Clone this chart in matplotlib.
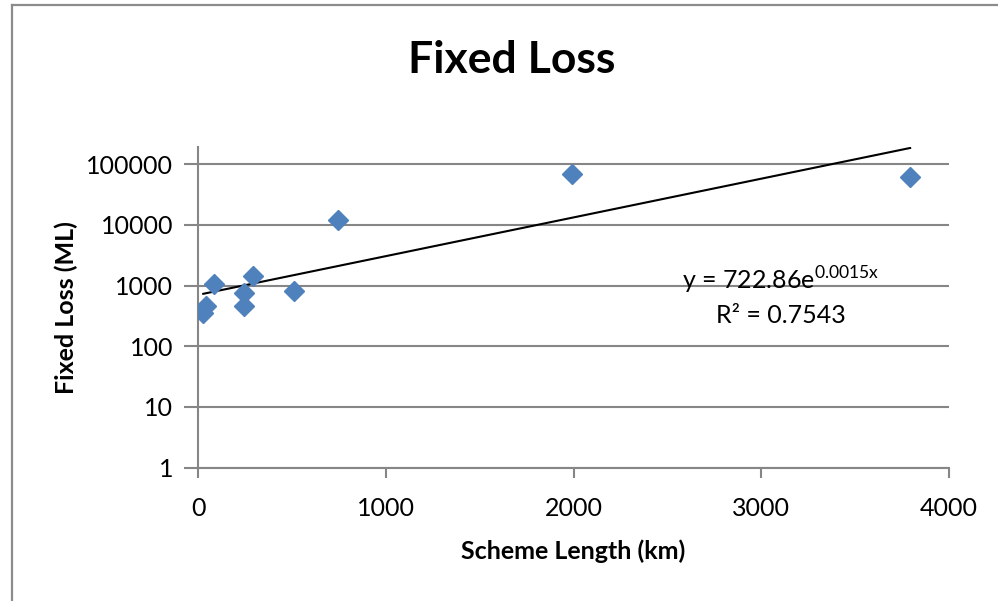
import numpy as np
import matplotlib.pyplot as plt
from matplotlib.lines import Line2D

# scheme length (km) and fixed loss (ML)
length_km = [28, 43, 87, 246, 246, 294, 512, 746, 1993, 3793]
fixed_loss = [350, 465, 1050, 750, 460, 1440, 815, 12200, 69800, 62200]
x_ticks = [0, 1000, 2000, 3000, 4000]
y_ticks = [1, 10, 100, 1000, 10000, 100000]

plt.rcParams['font.family'] = ['Lato', 'DejaVu Sans']
plt.rcParams['mathtext.fontset'] = 'custom'
plt.rcParams['mathtext.rm'] = 'Lato'

grey = '#868686'
blue = '#4F81BD'

fig = plt.figure(figsize=(9.98, 6.01), dpi=100)
ax = fig.add_axes([198 / 998, 1 - 467.7 / 601, 751 / 998, (467.7 - 147) / 601])

# chart area border (left and top only visible)
fig.add_artist(Line2D([12 / 998, 12 / 998], [0, 1 - 5 / 601], color='#8c8c8c', lw=1.6))
fig.add_artist(Line2D([12 / 998, 1], [1 - 5 / 601, 1 - 5 / 601], color='#8c8c8c', lw=1.6))

# exponential trendline, fitted on log(y)
b, lna = np.polyfit(length_km, np.log(fixed_loss), 1)
xs = np.linspace(min(length_km), max(length_km), 300)
ax.plot(xs, np.exp(lna) * np.exp(b * xs), color='black', lw=1.5, zorder=2)

ax.plot(length_km, fixed_loss, 'D', color=blue, ms=10.5, mec=blue, zorder=3)

ax.set_yscale('log')
ax.set_xlim(0, 4000)
ax.set_ylim(1, 10 ** 5.283)
ax.set_xticks(x_ticks)
ax.set_xticklabels([str(t) for t in x_ticks])
ax.set_yticks(y_ticks)
ax.set_yticklabels([str(t) for t in y_ticks])
ax.yaxis.set_minor_locator(plt.NullLocator())
ax.tick_params(axis='both', labelsize=18, colors=grey, labelcolor='black',
               width=1.5, direction='out')
ax.tick_params(axis='y', length=10, pad=8)
ax.tick_params(axis='x', length=7, pad=14)
ax.grid(True, axis='y', color=grey, lw=1.5)
for s in ['top', 'right']:
    ax.spines[s].set_visible(False)
for s in ['left', 'bottom']:
    ax.spines[s].set_color(grey)
    ax.spines[s].set_linewidth(1.5)

ax.set_xlabel('Scheme Length (km)', fontsize=18, fontweight='bold', labelpad=14)
ax.set_ylabel('Fixed Loss (ML)', fontsize=18, fontweight='bold', labelpad=6)
fig.text(0.513, 1 - 60 / 601, 'Fixed Loss', fontsize=32, fontweight='bold',
         ha='center', va='center')

fig.text(781 / 998, 1 - 290 / 601, r'y = 722.86e$^{\mathregular{0.0015x}}$', fontsize=18,
         ha='center', va='baseline')
fig.text(781 / 998, 1 - 323 / 601, 'R² = 0.7543', fontsize=18,
         ha='center', va='baseline')

plt.savefig('out.png', dpi=100)
